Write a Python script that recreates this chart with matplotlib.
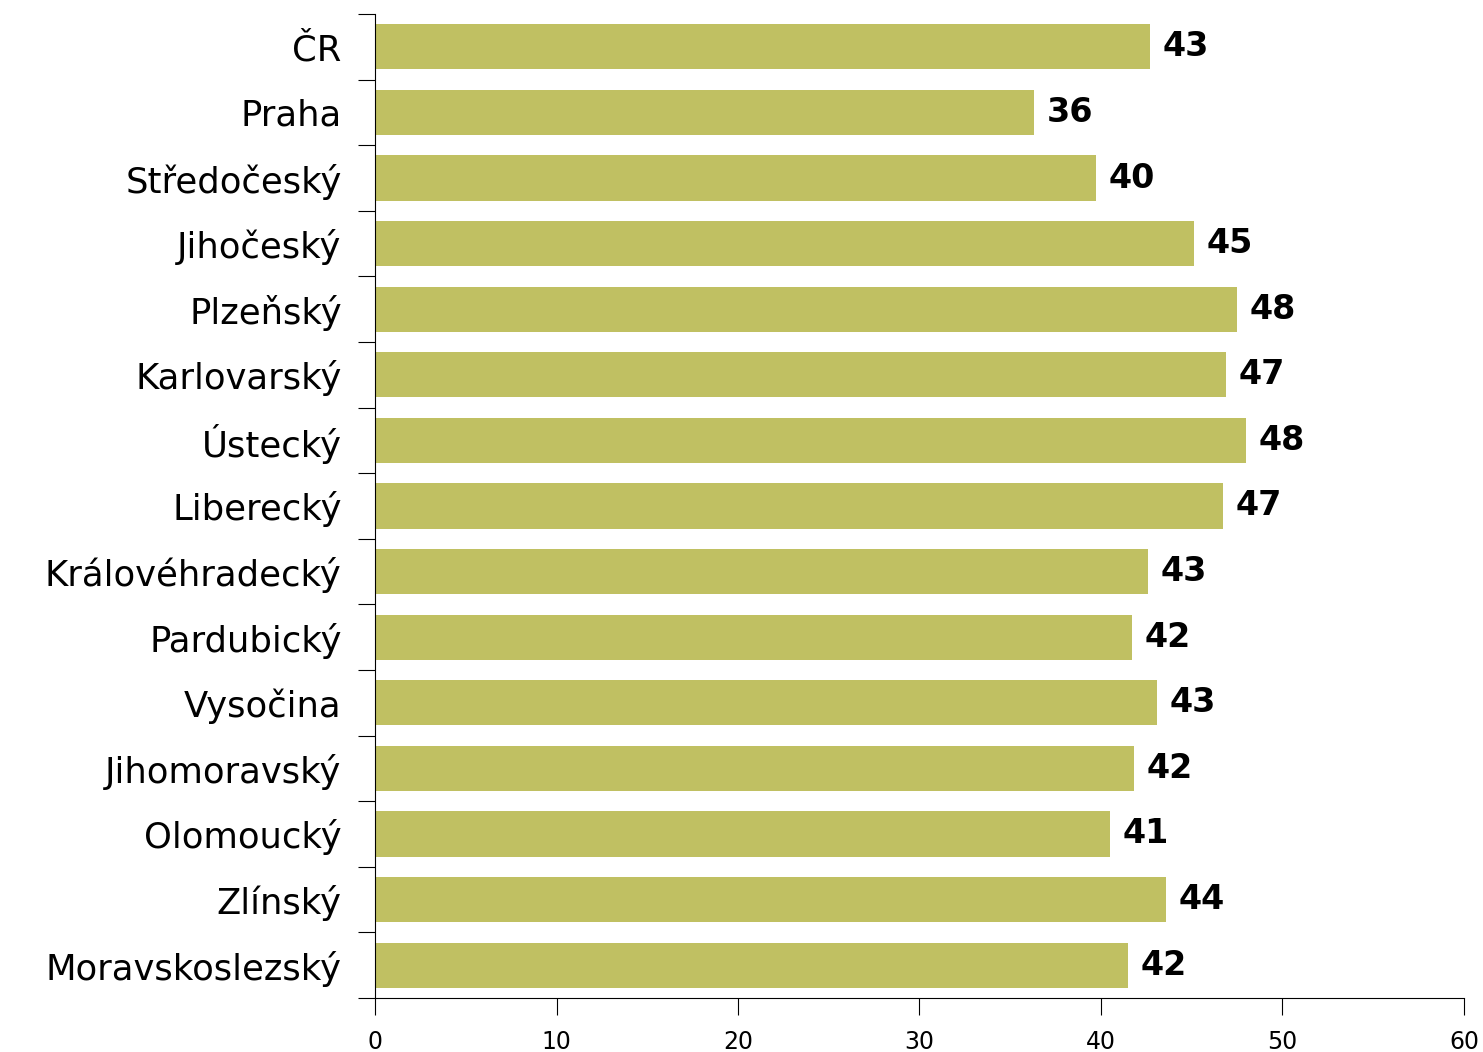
import matplotlib
matplotlib.use("Agg")
import matplotlib.pyplot as plt
import numpy as np

regions = ['ČR', 'Praha', 'Středočeský', 'Jihočeský', 'Plzeňský', 'Karlovarský',
           'Ústecký', 'Liberecký', 'Královéhradecký', 'Pardubický', 'Vysočina',
           'Jihomoravský', 'Olomoucký', 'Zlínský', 'Moravskoslezský']
values = [42.7, 36.3, 39.7, 45.1, 47.5, 46.9, 48.0, 46.7, 42.6, 41.7, 43.1, 41.8, 40.5, 43.6, 41.5]
value_labels = ['43', '36', '40', '45', '48', '47', '48', '47', '43', '42', '43', '42', '41', '44', '42']

bar_color = '#C0C062'

fig = plt.figure(figsize=(14.83, 10.52), dpi=100)
ax = fig.add_axes([375 / 1483, 1 - 998 / 1052, 1089 / 1483, 984 / 1052])

y = np.arange(len(regions))
ax.barh(y, values, height=0.69, color=bar_color)
for yi, v, lab in zip(y, values, value_labels):
    ax.text(v + 0.7, yi, lab, va='center', ha='left',
            fontsize=24, fontweight='bold', color='black')

ax.set_xlim(0, 60)
ax.set_ylim(len(regions) - 0.5, -0.5)
ax.set_xticks(np.arange(0, 61, 10))
ax.tick_params(axis='x', labelsize=17, length=12, pad=11, colors='black')

# category ticks sit at the boundaries, labels at the centres
ax.set_yticks(np.arange(-0.5, len(regions), 1.0))
ax.set_yticklabels([])
ax.tick_params(axis='y', which='major', length=12)
ax.set_yticks(y, minor=True)
ax.set_yticklabels(regions, minor=True, fontsize=25.5)
ax.tick_params(axis='y', which='minor', length=0, pad=24)

ax.spines['top'].set_visible(False)
ax.spines['right'].set_visible(False)

fig.savefig('out.png', dpi=100)
